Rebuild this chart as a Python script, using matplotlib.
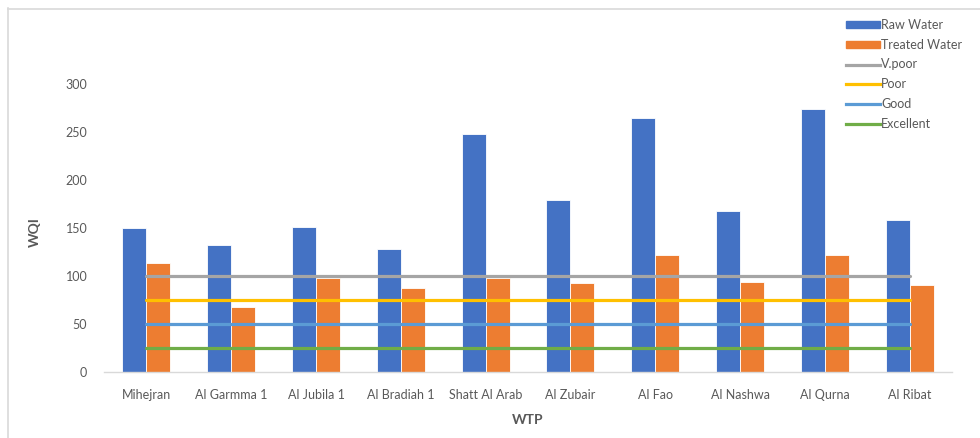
import matplotlib
matplotlib.use("Agg")
import matplotlib.pyplot as plt
from matplotlib.patches import Patch
from matplotlib.lines import Line2D
import numpy as np

plt.rcParams["font.family"] = ["Lato", "DejaVu Sans"]

# Water treatment plants and their water quality index
plants = ["Mihejran", "Al Garmma 1", "Al Jubila 1", "Al Bradiah 1", "Shatt Al Arab",
          "Al Zubair", "Al Fao", "Al Nashwa", "Al Qurna", "Al Ribat"]
raw_water = [150, 132, 151, 128, 248, 179, 265, 168, 274, 158]
treated_water = [114, 68, 98, 87, 98, 93, 122, 94, 122, 91]

# Classification thresholds
v_poor = [100, 100, 100, 100, 100, 100, 100, 100, 100, 100]
poor = [75, 75, 75, 75, 75, 75, 75, 75, 75, 75]
good = [50, 50, 50, 50, 50, 50, 50, 50, 50, 50]
excellent = [25, 25, 25, 25, 25, 25, 25, 25, 25, 25]

y_ticks = [0, 50, 100, 150, 200, 250, 300]

c_raw = "#4472C4"
c_treated = "#ED7D31"
c_vpoor = "#A5A5A5"
c_poor = "#FFC000"
c_good = "#5B9BD5"
c_exc = "#70AD47"
text_col = "#595959"

W, H = 980, 438
fig = plt.figure(figsize=(W / 100, H / 100), dpi=100)
ax = fig.add_axes([104 / W, (H - 372) / H, (952 - 104) / W, (372 - 84) / H])

x = np.arange(len(plants))
bw = 0.283
ax.bar(x - bw / 2, raw_water, bw, color=c_raw, edgecolor="white", linewidth=0.6, zorder=2)
ax.bar(x + bw / 2, treated_water, bw, color=c_treated, edgecolor="white", linewidth=0.6, zorder=2)

lw = 2.3
ax.plot(x, v_poor, color=c_vpoor, lw=lw, zorder=3, solid_capstyle="round")
ax.plot(x, poor, color=c_poor, lw=lw, zorder=3, solid_capstyle="round")
ax.plot(x, good, color=c_good, lw=lw, zorder=3, solid_capstyle="round")
ax.plot(x, excellent, color=c_exc, lw=lw, zorder=3, solid_capstyle="round")

ax.set_xlim(-0.5, len(plants) - 0.5)
ax.set_ylim(0, 300)
ax.set_yticks(y_ticks)
ax.set_xticks(x)
ax.set_xticklabels(plants)
ax.tick_params(axis="both", length=0, labelsize=9, colors=text_col)
ax.tick_params(axis="x", pad=12)
ax.tick_params(axis="y", pad=12)
for side in ("top", "right", "left"):
    ax.spines[side].set_visible(False)
ax.spines["bottom"].set_color("#D9D9D9")
ax.spines["bottom"].set_linewidth(1.0)

fig.text(528 / W, 1 - 420 / H, "WTP", ha="center", va="center",
         fontsize=10, fontweight="bold", color=text_col)
fig.text(35 / W, 1 - 232 / H, "WQI", ha="center", va="center", rotation=90,
         fontsize=10, fontweight="bold", color=text_col)

handles = [
    Patch(facecolor=c_raw, edgecolor=c_raw),
    Patch(facecolor=c_treated, edgecolor=c_treated),
    Line2D([], [], color=c_vpoor, lw=lw),
    Line2D([], [], color=c_poor, lw=lw),
    Line2D([], [], color=c_good, lw=lw),
    Line2D([], [], color=c_exc, lw=lw),
]
labels = ["Raw Water", "Treated Water", "V.poor", "Poor", "Good", "Excellent"]
leg = fig.legend(handles, labels, loc="upper left", bbox_to_anchor=(846 / W, 1 - 19 / H),
                 frameon=False, fontsize=9, handlelength=2.7, handleheight=0.5,
                 handletextpad=0.1, labelspacing=0.62, borderaxespad=0, borderpad=0)
for t in leg.get_texts():
    t.set_color(text_col)

# Chart border
fig.add_artist(Line2D([7.5 / W, 7.5 / W], [0, 1 - 8 / H], transform=fig.transFigure,
                      color="#D9D9D9", lw=1.2))
fig.add_artist(Line2D([7.5 / W, 1], [1 - 8.5 / H, 1 - 8.5 / H], transform=fig.transFigure,
                      color="#D9D9D9", lw=1.2))

fig.savefig("out.png", dpi=100, facecolor="white")
